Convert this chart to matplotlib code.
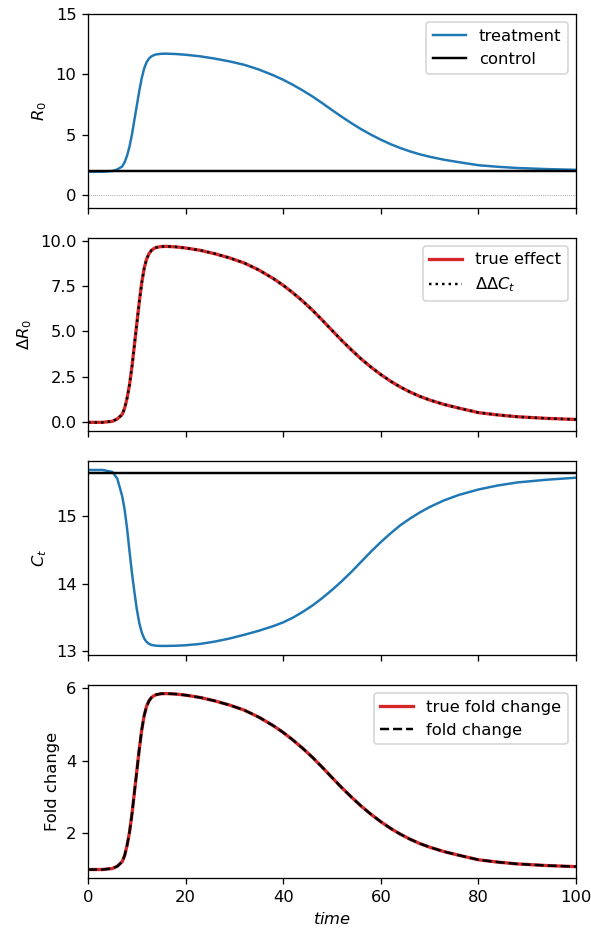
import matplotlib
matplotlib.use("Agg")
import matplotlib.pyplot as plt
from matplotlib.ticker import FormatStrFormatter

# time grid
time = [0, 3, 5, 6, 7, 7.5, 8, 8.5, 9, 9.5, 10, 10.5, 11, 11.5, 12, 12.5, 13, 13.5, 14, 15,
        16, 18, 20, 23, 26, 29, 32, 35, 38, 40, 42, 44, 46, 48, 50, 52, 54, 56, 58, 60,
        62, 64, 66, 68, 70, 73, 76, 80, 84, 88, 94, 100]

# panel 1: R0
r0_treatment = [1.96, 1.96, 2.02, 2.15, 2.4, 2.75, 3.3, 4.05, 5.05, 6.25, 7.45, 8.65, 9.7,
                10.5, 11.02, 11.32, 11.5, 11.6, 11.66, 11.71, 11.72, 11.69, 11.63, 11.5,
                11.31, 11.08, 10.8, 10.41, 9.93, 9.56, 9.14, 8.68, 8.18, 7.63, 7.06, 6.5,
                5.97, 5.47, 5.02, 4.61, 4.24, 3.92, 3.64, 3.4, 3.2, 2.95, 2.75, 2.5, 2.37,
                2.27, 2.18, 2.12]
r0_control = 2.0

# panel 2: delta R0
delta_true = [-0.04, -0.04, 0.02, 0.15, 0.4, 0.75, 1.3, 2.05, 3.05, 4.25, 5.45, 6.65, 7.7,
              8.5, 9.02, 9.32, 9.5, 9.6, 9.66, 9.71, 9.72, 9.69, 9.63, 9.5, 9.31, 9.08,
              8.8, 8.41, 7.93, 7.56, 7.14, 6.68, 6.18, 5.63, 5.06, 4.5, 3.97, 3.47, 3.02,
              2.61, 2.24, 1.92, 1.64, 1.4, 1.2, 0.95, 0.75, 0.5, 0.37, 0.27, 0.18, 0.12]
delta_ddct = list(delta_true)

# panel 3: Ct
ct_treatment = [15.69, 15.69, 15.66, 15.56, 15.3, 15.1, 14.82, 14.48, 14.16, 13.88, 13.62,
                13.42, 13.28, 13.19, 13.14, 13.11, 13.095, 13.088, 13.083, 13.08, 13.08,
                13.083, 13.09, 13.11, 13.145, 13.19, 13.245, 13.305, 13.375, 13.43, 13.5,
                13.585, 13.68, 13.79, 13.91, 14.04, 14.18, 14.33, 14.48, 14.62, 14.75,
                14.87, 14.97, 15.06, 15.14, 15.24, 15.32, 15.4, 15.46, 15.505, 15.545,
                15.575]
ct_control = 15.64

# panel 4: fold change
fold_true = [0.98, 0.98, 1.01, 1.07, 1.2, 1.37, 1.65, 2.02, 2.52, 3.12, 3.72, 4.32, 4.85,
             5.25, 5.51, 5.66, 5.75, 5.8, 5.83, 5.855, 5.86, 5.845, 5.815, 5.75, 5.655,
             5.54, 5.4, 5.205, 4.965, 4.78, 4.57, 4.34, 4.09, 3.815, 3.53, 3.25, 2.985,
             2.735, 2.51, 2.305, 2.12, 1.96, 1.82, 1.7, 1.6, 1.475, 1.375, 1.25, 1.185,
             1.135, 1.09, 1.06]
fold_est = list(fold_true)

DPI = 118.2
fig, axes = plt.subplots(4, 1, figsize=(591 / DPI, 932 / DPI), dpi=DPI, sharex=True)
fig.subplots_adjust(left=0.149, right=0.9746, top=0.985, bottom=0.0576, hspace=0.155)

ax = axes[0]
ax.plot(time, r0_treatment, color="C0", lw=1.5, label="treatment")
ax.axhline(r0_control, color="black", lw=1.5, label="control")
ax.axhline(0, color="gray", lw=0.5, ls=":")
ax.set_ylim(-1, 15)
ax.set_yticks([0, 5, 10, 15])
ax.set_ylabel("$R_0$")
ax.legend(loc="upper right")

ax = axes[1]
ax.plot(time, delta_true, color="tab:red", lw=2, label="true effect")
ax.plot(time, delta_ddct, color="black", lw=1.5, ls=":", label=r"$\Delta\Delta C_t$")
ax.set_yticks([0, 2.5, 5, 7.5, 10])
ax.yaxis.set_major_formatter(FormatStrFormatter("%.1f"))
ax.set_ylabel(r"$\Delta R_0$")
ax.legend(loc="upper right")

ax = axes[2]
ax.plot(time, ct_treatment, color="C0", lw=1.5)
ax.axhline(ct_control, color="black", lw=1.5)
ax.set_yticks([13, 14, 15])
ax.set_ylabel("$C_t$")

ax = axes[3]
ax.plot(time, fold_true, color="tab:red", lw=2, label="true fold change")
ax.plot(time, fold_est, color="black", lw=1.5, ls="--", label="fold change")
ax.set_ylabel("Fold change")
ax.set_yticks([2, 4, 6])
ax.legend(loc="upper right")
ax.set_xlim(0, 100)
ax.set_xlabel("$time$")

fig.savefig("out.png", dpi=DPI)
